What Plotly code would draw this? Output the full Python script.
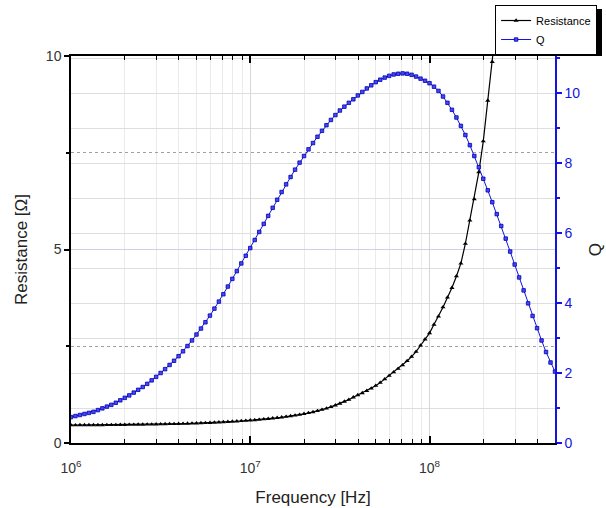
import plotly.graph_objects as go

# Frequency sweep: 40 points per decade (mantissas) from 1e6 to ~5e8
MANTISSA = [1.000, 1.059, 1.122, 1.189, 1.259, 1.334, 1.413, 1.496, 1.585, 1.679,
            1.778, 1.884, 1.995, 2.113, 2.239, 2.371, 2.512, 2.661, 2.818, 2.985,
            3.162, 3.350, 3.548, 3.758, 3.981, 4.217, 4.467, 4.732, 5.012, 5.309,
            5.623, 5.957, 6.310, 6.683, 7.079, 7.499, 7.943, 8.414, 8.913, 9.441]
DECADES = [1e6, 1e7, 1e8]
N_POINTS = 109
freq = [m * d for d in DECADES for m in MANTISSA][:N_POINTS]

# Q (right axis)
q_values = [
    0.74, 0.77, 0.80, 0.83, 0.86, 0.89, 0.94, 0.99, 1.04, 1.09,
    1.15, 1.22, 1.29, 1.36, 1.44, 1.52, 1.60, 1.69, 1.79, 1.89,
    2.00, 2.11, 2.23, 2.35, 2.48, 2.62, 2.77, 2.93, 3.10, 3.27,
    3.45, 3.64, 3.84, 4.04, 4.25, 4.47, 4.69, 4.91, 5.13, 5.35,
    5.57,
    5.80, 6.03, 6.26, 6.49, 6.72, 6.95, 7.17, 7.39, 7.60, 7.81,
    8.01, 8.20, 8.39, 8.57, 8.75, 8.92, 9.08, 9.23, 9.37, 9.50,
    9.61, 9.72, 9.82, 9.93, 10.03, 10.13, 10.22, 10.31, 10.38, 10.44,
    10.49, 10.53, 10.55, 10.56, 10.55, 10.52, 10.47, 10.41, 10.35, 10.28,
    10.18, 10.06, 9.90, 9.72,
    9.52, 9.30, 9.06, 8.80, 8.51, 8.20, 7.88, 7.55, 7.22, 6.88,
    6.54, 6.20, 5.84, 5.47, 5.10, 4.73, 4.36, 3.99, 3.63, 3.28,
    2.93, 2.60, 2.30, 2.04,
]

# Resistance (left axis), Ohm
r_values = [
    0.460, 0.461, 0.462, 0.462, 0.463, 0.464, 0.464, 0.465, 0.466, 0.467,
    0.468, 0.469, 0.470, 0.472, 0.473, 0.475, 0.477, 0.479, 0.481, 0.483,
    0.486, 0.489, 0.492, 0.494, 0.496, 0.499, 0.502, 0.506, 0.510, 0.514,
    0.518, 0.523, 0.528, 0.534, 0.540, 0.547, 0.554, 0.561, 0.569, 0.577,
    0.585,
    0.594, 0.604, 0.614, 0.625, 0.637, 0.650, 0.664, 0.679, 0.695, 0.713,
    0.732, 0.753, 0.776, 0.801, 0.829, 0.860, 0.894, 0.932, 0.974, 1.020,
    1.07, 1.12, 1.18, 1.24, 1.29, 1.35, 1.41, 1.48, 1.56, 1.65,
    1.74, 1.83, 1.92, 2.01, 2.12, 2.23, 2.36, 2.52, 2.68, 2.84,
    3.06, 3.27, 3.51, 3.76,
    4.01, 4.31, 4.64, 5.15, 5.75, 6.30, 7.00, 7.80, 8.85, 9.85,
    10.90, 12.00,
]

x_tick_vals = [1e6, 1e7, 1e8]
x_tick_text = ["10<sup>6</sup>", "10<sup>7</sup>", "10<sup>8</sup>"]
x_minor_vals = [k * d for d in DECADES for k in range(2, 10) if k * d <= 5.012e8]

FONT = "Liberation Sans, Arial, sans-serif"
BLUE = "rgb(20,20,225)"

fig = go.Figure()
fig.add_trace(go.Scatter(
    x=freq[:len(r_values)], y=r_values, name="Resistance", mode="lines+markers",
    line=dict(color="black", width=1.2),
    marker=dict(symbol="triangle-up", size=4.5, color="black"),
    yaxis="y",
))
fig.add_trace(go.Scatter(
    x=freq, y=q_values, name="Q", mode="lines+markers",
    line=dict(color=BLUE, width=1),
    marker=dict(symbol="square", size=3.5, color="rgb(70,70,255)",
                line=dict(color="rgb(0,0,170)", width=0.8)),
    yaxis="y2",
))

fig.update_layout(
    width=606, height=508,
    margin=dict(l=71, r=51, t=56, b=65, autoexpand=False),
    paper_bgcolor="white", plot_bgcolor="white",
    font=dict(family=FONT, color="#222"),
    showlegend=True,
    legend=dict(
        x=1.087, xanchor="right", y=(443 - 5) / 387, yanchor="top",
        bgcolor="white", bordercolor="black", borderwidth=1,
        font=dict(size=11, color="black", family=FONT),
        tracegroupgap=0, itemwidth=30,
    ),
    xaxis=dict(
        type="log", range=[6, 8.7], automargin=False,
        tickmode="array", tickvals=x_tick_vals, ticktext=x_tick_text,
        ticks="inside", ticklen=7, tickwidth=1.5, tickcolor="black",
        showline=True, linecolor="black", linewidth=1.5, mirror="ticks",
        showgrid=True, gridcolor="#d6d6d6", gridwidth=1,
        minor=dict(tickvals=x_minor_vals, ticks="inside", ticklen=4,
                   tickcolor="black", tickwidth=1.2,
                   showgrid=True, gridcolor="#ebebeb", gridwidth=1),
        tickfont=dict(size=14, color="#333"),
        ticklabelstandoff=11,
        title=dict(text="Frequency [Hz]", font=dict(size=17, color="#222"), standoff=17),
        zeroline=False,
    ),
    yaxis=dict(
        range=[0, 10], tickmode="array", tickvals=[0, 5, 10], automargin=False,
        ticks="outside", ticklen=5, tickwidth=1.5, tickcolor="black",
        showline=True, linecolor="black", linewidth=1.5,
        showgrid=True, gridcolor="#d0d0e0", gridwidth=1,
        minor=dict(dtick=2.5, tick0=0, ticks="outside", ticklen=3, tickcolor="black",
                   showgrid=True, gridcolor="#a0a0a0", griddash="dot", gridwidth=1),
        tickfont=dict(size=14, color="#333"),
        title=dict(text="Resistance [Ω]", font=dict(size=17, color="#222"), standoff=14),
        zeroline=False,
    ),
    yaxis2=dict(
        overlaying="y", side="right", range=[0, 11.057], automargin=False,
        tickmode="linear", tick0=0, dtick=2,
        ticks="outside", ticklen=5, tickwidth=1.5, tickcolor=BLUE,
        showline=True, linecolor=BLUE, linewidth=1.5,
        showgrid=True, gridcolor="#dedede", gridwidth=1,
        minor=dict(dtick=1, tick0=0, ticks="outside", ticklen=3, tickcolor=BLUE,
                   showgrid=True, gridcolor="#dedede", gridwidth=1),
        tickfont=dict(size=14, color=BLUE),
        title=dict(text="Q", font=dict(size=17, color="#222"), standoff=10),
        zeroline=False,
    ),
)

# legend drop shadow
fig.add_shape(type="rect", xref="paper", yref="paper",
              x0=(510 - 71) / 484, x1=(602 - 71) / 484,
              y0=(443 - 56) / 387, y1=(443 - 9) / 387,
              fillcolor="black", line=dict(width=0), layer="above")

fig.write_html("out.html", config={"displayModeBar": False},
               post_script="document.body.style.margin='0';document.body.style.padding='0';")
